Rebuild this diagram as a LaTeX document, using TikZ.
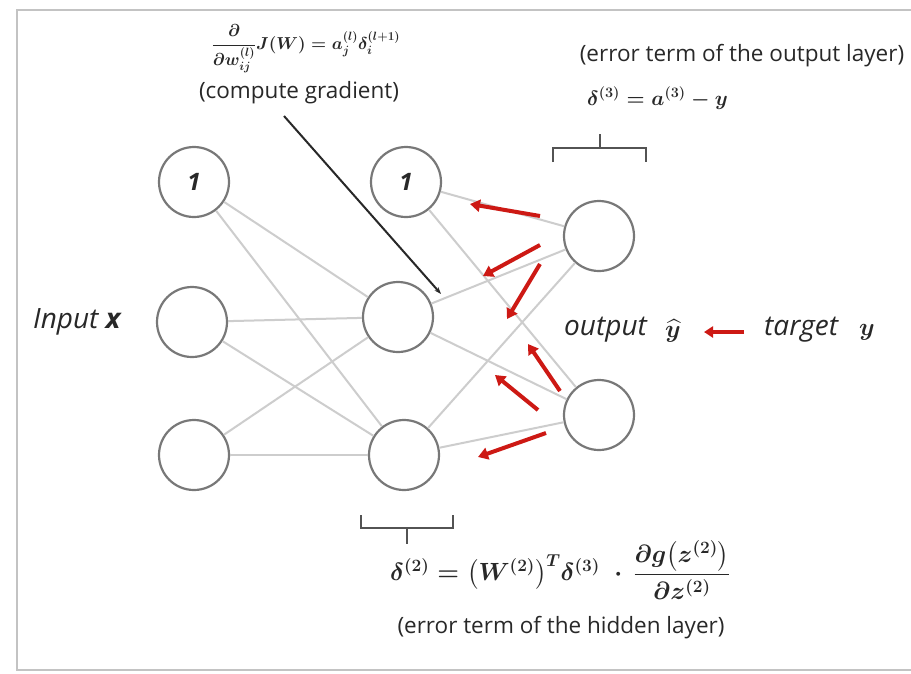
\documentclass[tikz,border=0pt]{standalone}
\usepackage{fontspec}
\setmainfont{Open Sans}
\usepackage{amsmath}
\usetikzlibrary{arrows.meta}
\definecolor{nodegray}{RGB}{120,120,120}
\definecolor{edgegray}{RGB}{205,205,205}
\definecolor{framegray}{RGB}{195,195,195}
\definecolor{redarrow}{RGB}{205,25,20}
\definecolor{txt}{RGB}{40,40,40}
\tikzset{
  neuron/.style={circle, draw=nodegray, line width=2.2pt, minimum size=70pt, inner sep=0pt, font=\fontsize{24}{26}\selectfont\itshape\bfseries, text=txt},
  edge/.style={draw=edgegray, line width=2pt},
  backarrow/.style={draw=redarrow, line width=4pt, -{Triangle[length=10pt,width=12pt]}},
  brack/.style={draw=txt!80, line width=2pt},
  lbl/.style={text=txt, inner sep=0pt},
  biglbl/.style={lbl, anchor=west, font=\fontsize{28}{30}\selectfont\itshape},
  note/.style={lbl, font=\fontsize{22.5}{24}\selectfont},
}
\begin{document}
\begin{tikzpicture}[x=1pt,y=-1pt]
\useasboundingbox (0,0) rectangle (911,673);
\fill[white] (0,0) rectangle (911,673);
% frame
\draw[framegray, line width=2.5pt] (911,10) -- (17,10) -- (17,670) -- (911,670);

% neurons
\node[neuron] (I1) at (194,182) {1};
\node[neuron] (I2) at (192,322) {};
\node[neuron] (I3) at (194,455) {};
\node[neuron] (H1) at (406,182) {1};
\node[neuron] (H2) at (398,317) {};
\node[neuron] (H3) at (404,455) {};
\node[neuron] (O1) at (599,236) {};
\node[neuron] (O2) at (599,415) {};

% connections
\foreach \a in {I1,I2,I3}{
  \foreach \b in {H2,H3}{
    \draw[edge] (\a) -- (\b);
  }
}
\foreach \a in {H1,H2,H3}{
  \foreach \b in {O1,O2}{
    \draw[edge] (\a) -- (\b);
  }
}

% red back-propagation arrows
\coordinate (r1s) at (540,216); \coordinate (r1e) at (470,204);
\coordinate (r2s) at (540,245); \coordinate (r2e) at (483,276);
\coordinate (r3s) at (540,264); \coordinate (r3e) at (507,319);
\coordinate (r4s) at (560,391); \coordinate (r4e) at (528,344);
\coordinate (r5s) at (538,410); \coordinate (r5e) at (495,375);
\coordinate (r6s) at (546,433); \coordinate (r6e) at (478,457);
\foreach \i in {1,...,6}{
  \draw[backarrow] (r\i s) -- (r\i e);
}

% labels
\node[biglbl] (inx) at (33,322) {Input \textbf{x}};
\node[biglbl] (outl) at (564,330) {output};
\node[lbl, anchor=west, font=\fontsize{24}{26}\selectfont\boldmath] (yhat) at (665,331) {$\widehat{y}$};
\node[biglbl] (tgt) at (764,330) {target};
\node[lbl, anchor=west, font=\fontsize{26}{28}\selectfont\boldmath] (ty) at (859,332) {$y$};
\coordinate (ta) at (744,332);
\coordinate (tb) at (704,332);
\draw[draw=redarrow, line width=4pt, -{Triangle[length=9pt,width=11pt]}] (ta) -- (tb);

% top formula and gradient label
\node[lbl, font=\fontsize{17.5}{19}\selectfont\boldmath] (gradf) at (306,49)
  {$\dfrac{\partial}{\partial w_{ij}^{(l)}}J(W)=a_j^{(l)}\delta_i^{(l+1)}$};
\node[note] (gradt) at (299,93) {(compute gradient)};
\coordinate (gp) at (441,294);
\draw[draw=txt, line width=2pt, -{Stealth[length=7pt,width=5pt]}] (284,116) -- (gp);

% output error
\node[note] (oerr) at (742,56) {(error term of the output layer)};
\node[lbl, anchor=west, font=\fontsize{20}{22}\selectfont\boldmath] (d3) at (587,98) {$\delta^{(3)}=a^{(3)}-y$};
\draw[brack] (553,162) -- (553,148) -- (646,148) -- (646,162);
\draw[brack] (600,148) -- (600,134);

% hidden error
\draw[brack] (361,515) -- (361,528) -- (453,528) -- (453,515);
\draw[brack] (407,528) -- (407,544);
\node[lbl, anchor=west, font=\fontsize{24}{27}\selectfont\boldmath] (d2) at (390,570)
  {$\delta^{(2)}=\big(W^{(2)}\big)^{T}\delta^{(3)}\;\boldsymbol{\cdot}\,\dfrac{\partial g\big(z^{(2)}\big)}{\partial z^{(2)}}$};
\node[note] (herr) at (561,628) {(error term of the hidden layer)};
\end{tikzpicture}
\end{document}
